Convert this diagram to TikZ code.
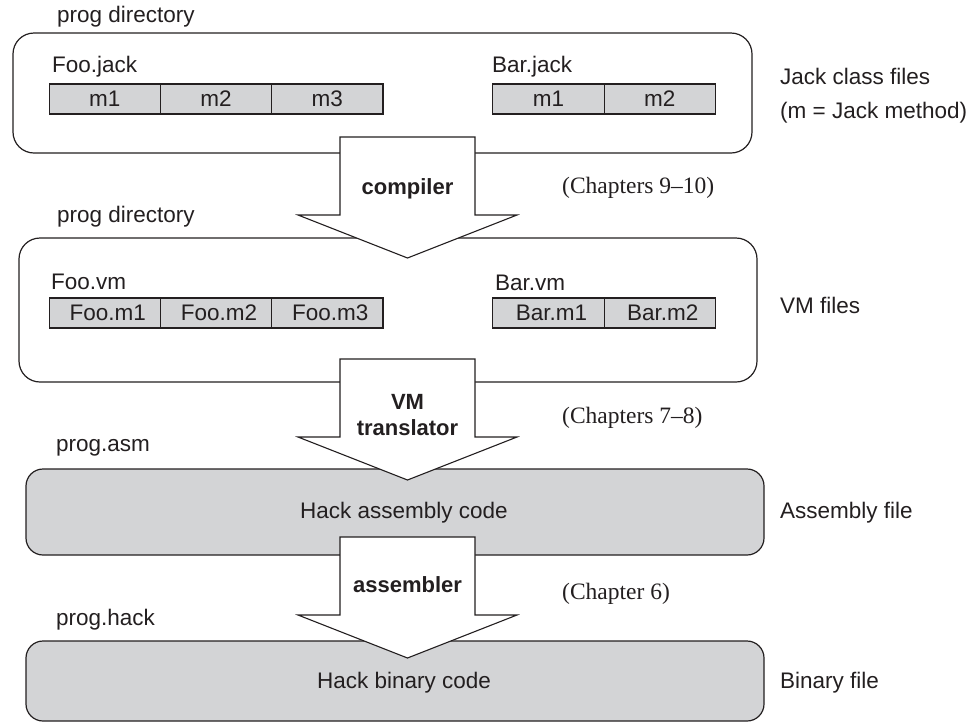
\documentclass[tikz,border=0pt]{standalone}
\usepackage{fontspec}
\setmainfont{Liberation Sans}
\newfontfamily\chapfont{Liberation Serif}
\usepackage{xcolor}
\definecolor{filegray}{RGB}{211,212,214}
\definecolor{inkgray}{RGB}{35,31,32}
\usetikzlibrary{positioning}
\tikzset{
  every node/.style={font=\fontsize{22.5}{27}\selectfont, text=inkgray},
  dirbox/.style={
    rectangle, rounded corners=21pt, draw=inkgray, line width=1.2pt,
    fill=white, inner sep=0pt
  },
  filebox/.style={
    rectangle, rounded corners=17pt, draw=inkgray, line width=1.2pt,
    fill=filegray, inner sep=0pt
  },
  cell/.style={
    rectangle, draw=inkgray, line width=1.1pt, fill=filegray,
    minimum width=111.3pt, minimum height=30pt, inner sep=0pt, outer sep=0pt
  },
  stagearrow/.style={draw=inkgray, line width=1.1pt, fill=white, line join=miter},
  stagelabel/.style={font=\fontsize{22}{26}\selectfont\bfseries, align=center},
  chapnote/.style={font=\fontsize{23.5}{28}\selectfont\chapfont, anchor=west, inner sep=0pt},
  filelabel/.style={anchor=west, inner sep=0pt},
  sidenote/.style={anchor=west, inner sep=0pt}
}
% #1 = top of shaft, #2 = name
\newcommand{\stagearrow}[2]{
  \draw[stagearrow] (340,#1) -- (340,#1+78) -- (298,#1+78) -- (407.5,#1+121)
    -- (517,#1+78) -- (475,#1+78) -- (475,#1) -- cycle;
  \coordinate (#2) at (407.5,#1);
}

\begin{document}
\begin{tikzpicture}[x=1pt, y=-1pt]
\useasboundingbox (0,0) rectangle (977,724);

% ── The four file boxes ──────────────────────────────────────────────────────
\node[dirbox, minimum width=739pt, minimum height=120pt] (jackdir) at (382.5, 93) {};
\node[dirbox, minimum width=738pt, minimum height=144pt] (vmdir) at (388, 310) {};
\node[filebox, minimum width=738pt, minimum height=86pt] (asmfile) at (395, 512) {};
\node[filebox, minimum width=738pt, minimum height=80pt] (hackfile) at (395, 681) {};

% ── Jack class files ─────────────────────────────────────────────────────────
\node[filelabel] (jackname) at (57, 17) {prog directory};
\node[filelabel] (foojack) at (52, 67) {Foo.jack};
\node[filelabel] (barjack) at (492, 67) {Bar.jack};
\node[cell] (fj1) at (104.7, 99) {m1};
\node[cell, right=0pt of fj1] (fj2) {m2};
\node[cell, right=0pt of fj2] (fj3) {m3};
\node[cell] (bj1) at (548.5, 99) {m1};
\node[cell, right=0pt of bj1] (bj2) {m2};

% ── VM files ─────────────────────────────────────────────────────────────────
\node[filelabel] (vmname) at (57, 217) {prog directory};
\node[filelabel] (foovm) at (51, 282) {Foo.vm};
\node[filelabel] (barvm) at (495, 283) {Bar.vm};
\node[cell] (fv1) at (104.7, 313) {\hspace{6pt}Foo.m1};
\node[cell, right=0pt of fv1] (fv2) {\hspace{6pt}Foo.m2};
\node[cell, right=0pt of fv2] (fv3) {\hspace{6pt}Foo.m3};
\node[cell] (bv1) at (548.5, 313) {\hspace{6pt}Bar.m1};
\node[cell, right=0pt of bv1] (bv2) {\hspace{6pt}Bar.m2};

% ── Assembly and binary ──────────────────────────────────────────────────────
\node[filelabel] (asmname) at (56, 448) {prog.asm};
\node (asmtext) at (404, 513) {Hack assembly code};
\node[filelabel] (hackname) at (56, 620) {prog.hack};
\node (hacktext) at (404, 683) {Hack binary code};

% ── Translation stages ───────────────────────────────────────────────────────
\stagearrow{137}{compiletop}
\node[stagelabel] (compiler) at (407.5, 189) {compiler};
\stagearrow{359}{vmtop}
\node[stagelabel] (vmtrans) at (407.5, 415) {VM\\translator};
\stagearrow{537}{asmtop}
\node[stagelabel] (assembler) at (407.5, 585) {assembler};

\node[chapnote] (chap910) at (562, 188) {(Chapters 9–10)};
\node[chapnote] (chap78) at (562, 418) {(Chapters 7–8)};
\node[chapnote] (chap6) at (562, 594) {(Chapter 6)};

% ── Side notes ───────────────────────────────────────────────────────────────
\node[sidenote] (jacknote) at (780, 76) {Jack class files};
\node[sidenote] (methnote) at (780, 113) {(m = Jack method)};
\node[sidenote] (vmnote) at (780, 305) {VM files};
\node[sidenote] (asmnote) at (780, 513) {Assembly file};
\node[sidenote] (binnote) at (780, 683) {Binary file};

\end{tikzpicture}
\end{document}
